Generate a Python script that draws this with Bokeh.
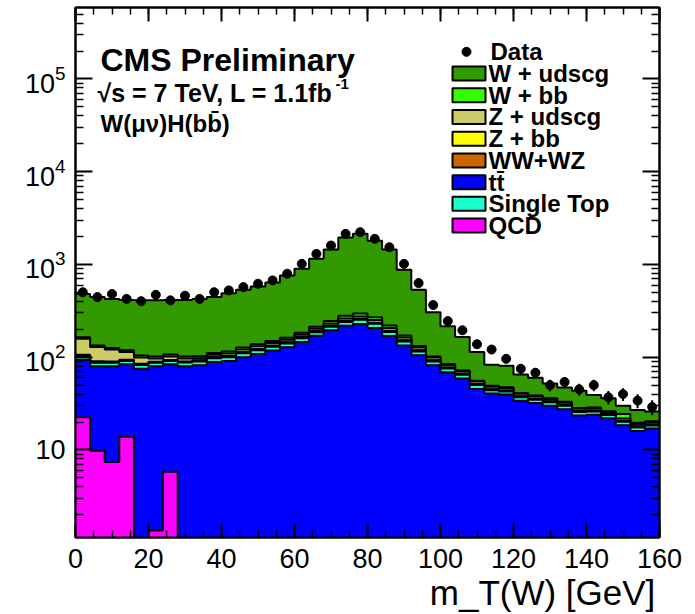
import numpy as np
from bokeh.plotting import figure
from bokeh.models import (Range1d, FixedTicker, LinearAxis, LogAxis, Label,
                          CustomJSTickFormatter, LogTickFormatter)
from bokeh.embed import file_html
from bokeh.resources import INLINE

# ---- histogram binning: m_T(W) in 4 GeV bins ----
edges = list(range(0, 161, 4))
centers = [e + 2 for e in edges[:-1]]

# ---- observed events per bin ----
data_counts = [502, 445, 480, 425, 402, 470, 410, 460, 425, 502,
               525, 570, 620, 673, 795, 1015, 1300, 1600, 2140, 2230,
               1890, 1535, 1015, 630, 365, 245, 195, 138, 121, 96,
               75, 68, 50, 54, 45, 50, 37, 40, 34, 29]

# ---- simulated backgrounds per bin (stacked bottom -> top) ----
qcd = [22.5, 9.8, 7.4, 13.9, 0, 1.35, 5.8, 0, 0, 0,
       0, 0, 0, 0, 0, 0, 0, 0, 0, 0,
       0, 0, 0, 0, 0, 0, 0, 0, 0, 0,
       0, 0, 0, 0, 0, 0, 0, 0, 0, 0]
ttbar = [70.5, 70.2, 72.6, 70.1, 75.0, 78.6, 78.2, 80.0, 82.0, 89.0,
         91, 100, 108, 118, 128, 146, 170, 195, 218, 228,
         207, 169, 134, 105, 82, 69, 59, 45.5, 40.5, 39.5,
         34, 32, 30, 27.5, 23.5, 24, 22, 18.5, 16, 17]
single_top = [8.5, 7, 7, 7, 7.5, 7, 7, 7.5, 8, 8.5,
              9, 10, 11, 11.5, 12.5, 14, 16, 18, 22, 25,
              22, 18, 14, 10.5, 8, 6.5, 5.5, 4.5, 3.5, 3.2,
              3.0, 2.8, 2.6, 2.4, 2.1, 2.0, 1.8, 1.6, 1.5, 1.4]
ww_wz = [1.2, 1.1, 1.1, 1.2, 1.2, 1.3, 1.4, 1.5, 1.6, 1.8,
         2.0, 2.2, 2.5, 2.8, 3.1, 3.5, 4.0, 4.6, 5.2, 5.6,
         5.2, 4.4, 3.4, 2.6, 1.9, 1.5, 1.2, 1.0, 0.9, 0.8,
         0.7, 0.65, 0.6, 0.55, 0.5, 0.45, 0.42, 0.4, 0.37, 0.35]
z_bb = [3.5, 2.6, 2.0, 1.6, 1.3, 1.1, 1.0, 0.9, 0.9, 0.9,
        0.9, 1.0, 1.0, 1.1, 1.2, 1.3, 1.4, 1.6, 1.8, 1.9,
        1.7, 1.4, 1.1, 0.8, 0.6, 0.5, 0.4, 0.35, 0.3, 0.28,
        0.25, 0.22, 0.2, 0.18, 0.16, 0.15, 0.14, 0.13, 0.12, 0.11]
z_udscg = [51.8, 38.3, 30.9, 20.2, 14.0, 7.6, 8.6, 7.1, 5.0, 6.0,
           7.0, 8.0, 8.5, 9.0, 9.5, 10, 11, 12, 14, 15,
           16, 14, 11, 8, 6.5, 5, 4, 3.2, 2.8, 2.6,
           2.3, 2.1, 1.9, 1.7, 1.5, 1.4, 1.3, 1.2, 1.1, 1.0]
w_bb = [6, 5, 5, 5, 5, 5, 5, 5, 5, 5,
        5.5, 6, 6.5, 7, 8, 9, 11, 14, 18, 20,
        17, 13, 8, 5, 3, 2.2, 1.7, 1.3, 1.1, 1.0,
        0.9, 0.8, 0.75, 0.7, 0.65, 0.6, 0.55, 2.5, 0.5, 0.5]
w_udscg = [316, 311, 299, 296, 306, 308, 308, 313, 322.5, 333.8,
           374.6, 407.8, 442.5, 490.6, 597.7, 716.2, 936.6, 1204.8, 1671, 1854.5,
           1531.1, 1230.2, 705.5, 403.1, 203, 130.3, 93.2, 58.2, 33.9, 33.6,
           23.9, 21.4, 16.0, 14.0, 15.1, 10.4, 9.8, 5.7, 7.4, 5.6]

stack_layers = [
    (qcd, "#ff00ff"),
    (ttbar, "#0000ff"),
    (single_top, "#1affcc"),
    (ww_wz, "#cc6600"),
    (z_bb, "#ffff00"),
    (z_udscg, "#cccc66"),
    (w_bb, "#33ff00"),
    (w_udscg, "#339900"),
]

legend_labels = ["W + udscg", "W + bb", "Z + udscg", "Z + bb", "WW+WZ", "tt\u0304", "Single Top", "QCD"]
legend_colors = ["#339900", "#33ff00", "#cccc66", "#ffff00", "#cc6600", "#0000ff", "#1affcc", "#ff00ff"]

x_major = [0, 20, 40, 60, 80, 100, 120, 140, 160]
x_minor = list(range(0, 161, 5))
y_major = [1, 10, 100, 1000, 10000, 100000]
y_minor = [m * 10 ** k for k in range(0, 6) for m in range(2, 10)]
x_title = "m_T(W) [GeV]"

# ---- canvas geometry ----
W, H = 695, 614
L, R, T, B = 75, 659, 7, 539
X0, X1 = 0, 160
Y0, Y1 = 1.137, 5.9e5
FONT = "Liberation Sans"


def at_x(px):
    return float(X0 + (px - L) / (R - L) * (X1 - X0))


def at_y(py):
    lo, hi = np.log10(Y0), np.log10(Y1)
    return float(10 ** (lo + (B - py) / (B - T) * (hi - lo)))


p = figure(width=W, height=H, x_range=Range1d(X0, X1), y_range=Range1d(Y0, Y1),
           y_axis_type="log", output_backend="svg", toolbar_location=None,
           min_border_left=L, min_border_right=W - R, min_border_top=T,
           min_border_bottom=H - B)
p.grid.visible = False
p.outline_line_color = "black"
p.outline_line_width = 2
p.background_fill_color = "white"
p.border_fill_color = "white"

# ---- stacked histograms, drawn from the full stack down (ROOT THStack style) ----
FLOOR = 1e-3
cum = np.zeros(len(centers))
tops = []
for vals, col in stack_layers:
    cum = cum + np.array(vals, dtype=float)
    tops.append((col, cum.copy()))

for col, top in reversed(tops):
    y = np.where(top > 0, top, FLOOR)
    y_ext = np.append(y, y[-1])
    p.varea_step(x=edges, y1=FLOOR, y2=y_ext, step_mode="after",
                 fill_color=col, fill_alpha=1.0)
    p.step(x=edges, y=y_ext, mode="after", line_color="black", line_width=2)

# ---- data points with Poisson errors ----
d = np.array(data_counts, dtype=float)
err = np.sqrt(d)
p.segment(x0=centers, y0=d - err, x1=centers, y1=d + err,
          line_color="black", line_width=2)
p.scatter(centers, data_counts, marker="circle", size=9,
          fill_color="black", line_color="black")


# ---- axes: ticks on all four sides pointing inward ----
def style_axis(ax, major_len, minor_len):
    ax.major_tick_in = major_len
    ax.major_tick_out = 0
    ax.minor_tick_in = minor_len
    ax.minor_tick_out = 0
    ax.axis_line_color = "black"
    ax.axis_line_width = 2
    ax.major_tick_line_color = "black"
    ax.major_tick_line_width = 2
    ax.minor_tick_line_color = "black"
    ax.minor_tick_line_width = 1.5


def no_labels(ax):
    ax.formatter = CustomJSTickFormatter(code="return ''")
    ax.major_label_standoff = 0


xb = p.xaxis[0]
xb.ticker = FixedTicker(ticks=x_major, minor_ticks=x_minor)
style_axis(xb, 14, 7)
xb.major_label_text_font = FONT
xb.major_label_text_font_size = "27px"
xb.major_label_text_color = "black"
xb.major_label_standoff = 11
# axis title sits at the right end of the axis (ROOT convention);
# the centred axis label is pushed right with non-breaking spaces
xb.axis_label = "\u00a0" * 36 + x_title
xb.axis_label_text_font = FONT
xb.axis_label_text_font_size = "35px"
xb.axis_label_text_font_style = "normal"
xb.axis_label_text_color = "black"
xb.axis_label_standoff = 2

yl = p.yaxis[0]
yl.ticker = FixedTicker(ticks=y_major, minor_ticks=y_minor)
style_axis(yl, 17, 8)
yl.formatter = LogTickFormatter(min_exponent=2)
yl.major_label_text_font = FONT
yl.major_label_text_font_size = "27px"
yl.major_label_text_color = "black"
yl.major_label_standoff = 10

xt = LinearAxis(ticker=FixedTicker(ticks=x_major, minor_ticks=x_minor))
style_axis(xt, 14, 7)
no_labels(xt)
p.add_layout(xt, "above")

yr = LogAxis(ticker=FixedTicker(ticks=y_major, minor_ticks=y_minor))
style_axis(yr, 17, 8)
no_labels(yr)
p.add_layout(yr, "right")


def add_text(px, py, text, size, bold=False, align="left"):
    p.add_layout(Label(x=at_x(px), y=at_y(py), text=text, text_font=FONT,
                       text_font_size=f"{size}px",
                       text_font_style="bold" if bold else "normal",
                       text_align=align, text_baseline="middle",
                       text_color="black"))


# header
add_text(100, 60, "CMS Preliminary", 32, bold=True)
add_text(97, 93, "\u221as = 7 TeV, L = 1.1fb", 25, bold=True)
add_text(335, 84, "-1", 15, bold=True)
add_text(100, 123, "W(\u03bc\u03bd)H(bb\u0304)", 24, bold=True)

# legend
row0, row_step = 51.5, 21.8
p.scatter([at_x(466)], [at_y(row0)], marker="circle", size=9,
          fill_color="black", line_color="black")
add_text(490, row0, "Data", 24, bold=True)
rows_y = [at_y(row0 + row_step * (i + 1)) for i in range(len(legend_labels))]
p.rect(x=[at_x(468.5)] * len(legend_labels), y=rows_y, width=33, height=14,
       width_units="screen", height_units="screen",
       fill_color=legend_colors, line_color="black", line_width=2)
for i, lab in enumerate(legend_labels):
    add_text(488, row0 + row_step * (i + 1), lab, 24, bold=True)

open("out.html", "w").write(file_html(p, INLINE))
